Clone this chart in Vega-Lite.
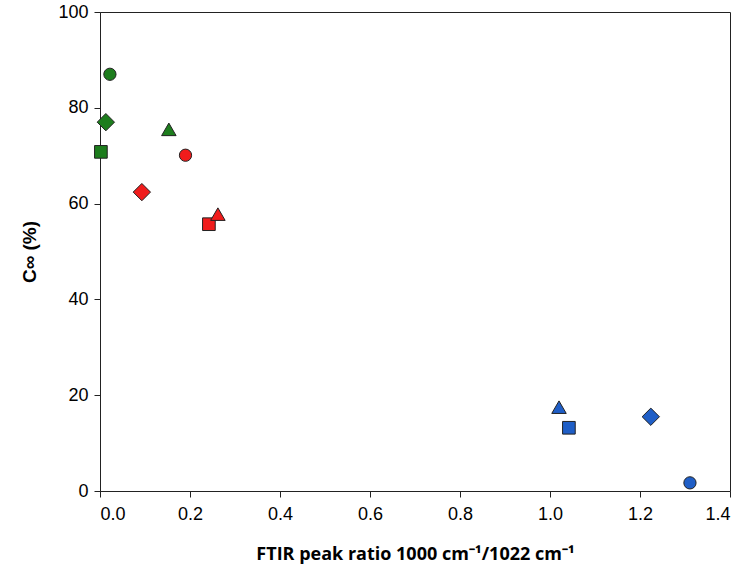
{
  "$schema": "https://vega.github.io/schema/vega-lite/v6.json",
  "autosize": {"type": "none"},
  "width": 630,
  "height": 479,
  "padding": {"left": 100, "top": 12, "right": 20, "bottom": 93},
  "background": "white",
  "config": {
    "view": {"stroke": "#222", "strokeWidth": 1},
    "axis": {"grid": false, "domainColor": "#222", "tickColor": "#222", "labelColor": "#000", "titleColor": "#000", "labelFont": "Liberation Sans", "labelFontSize": 18, "tickSize": 6}
  },
  "data": {"values": [
    {"x": 0.022, "y": 87.0, "group": "green", "shape": "circle"},
    {"x": 0.013, "y": 77.0, "group": "green", "shape": "diamond"},
    {"x": 0.002, "y": 70.8, "group": "green", "shape": "square"},
    {"x": 0.153, "y": 75.5, "group": "green", "shape": "triangle"},
    {"x": 0.19, "y": 70.1, "group": "red", "shape": "circle"},
    {"x": 0.093, "y": 62.4, "group": "red", "shape": "diamond"},
    {"x": 0.242, "y": 55.7, "group": "red", "shape": "square"},
    {"x": 0.262, "y": 57.8, "group": "red", "shape": "triangle"},
    {"x": 1.311, "y": 1.7, "group": "blue", "shape": "circle"},
    {"x": 1.224, "y": 15.5, "group": "blue", "shape": "diamond"},
    {"x": 1.042, "y": 13.2, "group": "blue", "shape": "square"},
    {"x": 1.02, "y": 17.5, "group": "blue", "shape": "triangle"}
  ]},
  "mark": {"type": "point", "filled": true, "stroke": "#222", "strokeWidth": 1, "opacity": 1},
  "encoding": {
    "x": {"field": "x", "type": "quantitative", "scale": {"domain": [0, 1.4], "nice": false},
      "axis": {"values": [0, 0.2, 0.4, 0.6, 0.8, 1.0, 1.2, 1.4], "format": ".1f", "labelPadding": 8, "title": "FTIR peak ratio 1000 cm⁻¹/1022 cm⁻¹", "titleFont": "Open Sans", "titleFontSize": 18, "titleFontWeight": "bold", "titlePadding": 22}},
    "y": {"field": "y", "type": "quantitative", "scale": {"domain": [0, 100], "nice": false},
      "axis": {"values": [0, 20, 40, 60, 80, 100], "labelPadding": 6, "title": "C∞ (%)", "titleFont": "Liberation Sans", "titleFontSize": 19, "titleFontWeight": "bold", "titlePadding": 18}},
    "color": {"field": "group", "type": "nominal", "scale": {"domain": ["green", "red", "blue"], "range": ["#1d7d1d", "#f01c1c", "#1f5ec6"]}, "legend": null},
    "shape": {"field": "shape", "type": "nominal", "scale": {"domain": ["circle", "diamond", "square", "triangle"], "range": ["circle", "diamond", "square", "triangle-up"]}, "legend": null},
    "size": {"field": "shape", "type": "nominal", "scale": {"type": "ordinal", "domain": ["circle", "diamond", "square", "triangle"], "range": [150, 300, 160, 210]}, "legend": null}
  }
}
